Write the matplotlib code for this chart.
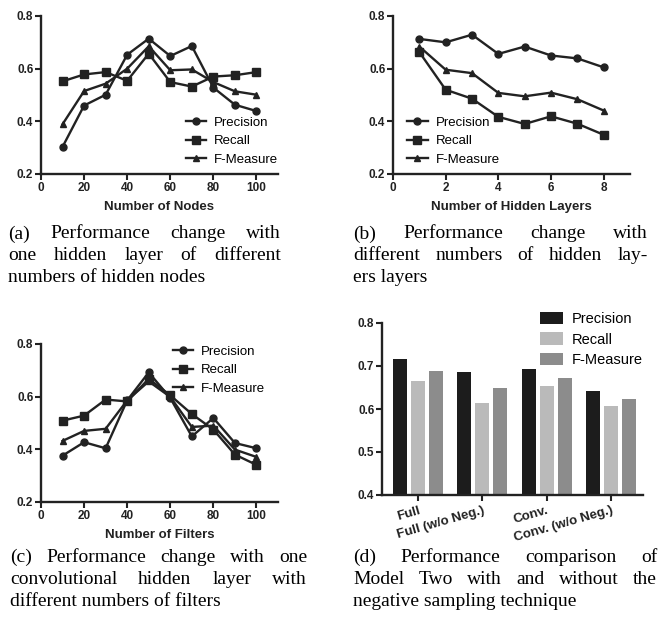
import matplotlib
matplotlib.use("Agg")
import matplotlib.pyplot as plt
import numpy as np

plt.rcParams['font.family'] = ['Liberation Sans', 'DejaVu Sans']

# (a) one hidden layer, number of nodes
nodes = [10, 20, 30, 40, 50, 60, 70, 80, 90, 100]
a_prec = [0.303, 0.46, 0.501, 0.653, 0.714, 0.648, 0.686, 0.528, 0.463, 0.439]
a_rec = [0.552, 0.578, 0.587, 0.554, 0.657, 0.549, 0.532, 0.570, 0.575, 0.587]
a_fm = [0.389, 0.515, 0.543, 0.600, 0.685, 0.594, 0.597, 0.549, 0.514, 0.501]

# (b) number of hidden layers
layers = [1, 2, 3, 4, 5, 6, 7, 8]
b_prec = [0.713, 0.700, 0.729, 0.656, 0.684, 0.650, 0.639, 0.605]
b_rec = [0.663, 0.520, 0.486, 0.417, 0.390, 0.419, 0.391, 0.349]
b_fm = [0.684, 0.596, 0.583, 0.508, 0.495, 0.509, 0.484, 0.441]

# (c) convolutional layer, number of filters
filters = [10, 20, 30, 40, 50, 60, 70, 80, 90, 100]
c_prec = [0.376, 0.427, 0.404, 0.586, 0.692, 0.595, 0.449, 0.519, 0.424, 0.404]
c_rec = [0.509, 0.528, 0.589, 0.582, 0.668, 0.605, 0.534, 0.475, 0.380, 0.341]
c_fm = [0.432, 0.470, 0.478, 0.586, 0.658, 0.599, 0.485, 0.490, 0.399, 0.371]

# (d) negative sampling comparison
models = ['Full', 'Full (w/o Neg.)', 'Conv.', 'Conv. (w/o Neg.)']
d_prec = [0.716, 0.686, 0.692, 0.642]
d_rec = [0.665, 0.615, 0.654, 0.606]
d_fm = [0.689, 0.649, 0.672, 0.624]

captions = {
    'a': ["(a) Performance change with", "one hidden layer of different", "numbers of hidden nodes"],
    'b': ["(b) Performance change with", "different numbers of hidden lay-", "ers layers"],
    'c': ["(c) Performance change with one", "convolutional hidden layer with", "different numbers of filters"],
    'd': ["(d) Performance comparison of", "Model Two with and without the", "negative sampling technique"],
}

W, H = 661, 620
fig = plt.figure(figsize=(W / 100, H / 100), dpi=100)


def px_axes(left, top, right, bottom):
    return fig.add_axes([left / W, 1 - bottom / H, (right - left) / W, (bottom - top) / H])


def style(ax):
    for s in ['top', 'right']:
        ax.spines[s].set_visible(False)
    for s in ['left', 'bottom']:
        ax.spines[s].set_linewidth(1.7)
        ax.spines[s].set_color('#222222')
    ax.tick_params(direction='out', length=4, width=1.5, color='#222222', pad=1.5,
                   labelsize=8.5)
    for lbl in ax.get_xticklabels() + ax.get_yticklabels():
        lbl.set_fontweight('bold')
        lbl.set_color('#222222')


def line_panel(ax, x, prec, rec, fm, xlim, xticks, xlabel, leg_anchor):
    kw = dict(color='#222222', lw=1.7)
    ax.plot(x, prec, marker='o', ms=5, label='Precision', **kw)
    ax.plot(x, rec, marker='s', ms=6, label='Recall', **kw)
    ax.plot(x, fm, marker='^', ms=5, label='F-Measure', **kw)
    ax.set_xlim(*xlim)
    ax.set_ylim(0.2, 0.8)
    ax.set_xticks(xticks)
    ax.set_yticks([0.2, 0.4, 0.6, 0.8])
    ax.set_yticklabels(['0.2', '0.4', '0.6', '0.8'])
    ax.set_xlabel(xlabel, fontsize=9.5, fontweight='bold', labelpad=5, color='#222222')
    style(ax)
    ax.legend(loc='upper left', bbox_to_anchor=leg_anchor, frameon=False, fontsize=9.5,
              borderpad=0, borderaxespad=0, handlelength=1.55, handletextpad=0.6,
              labelspacing=0.48)


ax_a = px_axes(41, 16, 278, 174)
line_panel(ax_a, nodes, a_prec, a_rec, a_fm, (0, 110), range(0, 101, 20),
           'Number of Nodes', (0.61, 0.365))

ax_b = px_axes(393, 16, 630, 174)
line_panel(ax_b, layers, b_prec, b_rec, b_fm, (0, 9), range(0, 9, 2),
           'Number of Hidden Layers', (0.06, 0.365))

ax_c = px_axes(41, 344, 278, 502)
line_panel(ax_c, filters, c_prec, c_rec, c_fm, (0, 110), range(0, 101, 20),
           'Number of Filters', (0.555, 0.99))

ax_d = px_axes(382, 323, 643, 495)
xpos = np.arange(len(models))
bw, step = 0.22, 0.28
ax_d.bar(xpos - step, d_prec, bw, color='#1c1c1c', label='Precision')
ax_d.bar(xpos, d_rec, bw, color='#bababa', label='Recall')
ax_d.bar(xpos + step, d_fm, bw, color='#8c8c8c', label='F-Measure')
ax_d.set_xlim(-0.56, 3.5)
ax_d.set_ylim(0.4, 0.8)
ax_d.set_yticks([0.4, 0.5, 0.6, 0.7, 0.8])
ax_d.set_yticklabels(['0.4', '0.5', '0.6', '0.7', '0.8'])
ax_d.set_xticks(xpos)
ax_d.set_xticklabels(models, rotation=16, ha='right', va='top', rotation_mode='anchor')
style(ax_d)
ax_d.tick_params(axis='x', labelsize=9.5, pad=3)
ax_d.legend(loc='upper left', bbox_to_anchor=(0.605, 1.065), frameon=False, fontsize=10.5,
            borderpad=0, borderaxespad=0, handlelength=1.6, handleheight=0.9,
            handletextpad=0.6, labelspacing=0.45)

# captions, first two lines justified
renderer = fig.canvas.get_renderer()
cap_font = dict(family='Liberation Serif', size=14)


def justify(x0, x1, y, line):
    words = line.split(' ')
    texts = [fig.text(0, 1 - y / H, w, va='center', ha='left', **cap_font) for w in words]
    widths = [t.get_window_extent(renderer).width for t in texts]
    gap = (x1 - x0 - sum(widths)) / (len(words) - 1)
    x = x0
    for t, w in zip(texts, widths):
        t.set_x(x / W)
        x += w + gap


def caption(x0, x1, ys, lines):
    justify(x0, x1, ys[0], lines[0])
    justify(x0, x1, ys[1], lines[1])
    fig.text(x0 / W, 1 - ys[2] / H, lines[2], va='center', ha='left', **cap_font)


caption(8, 281, [234, 256, 278], captions['a'])
caption(353, 648, [234, 256, 278], captions['b'])
caption(10, 307, [557, 580, 602], captions['c'])
caption(353, 657, [557, 580, 602], captions['d'])

fig.savefig('out.png', dpi=100)
